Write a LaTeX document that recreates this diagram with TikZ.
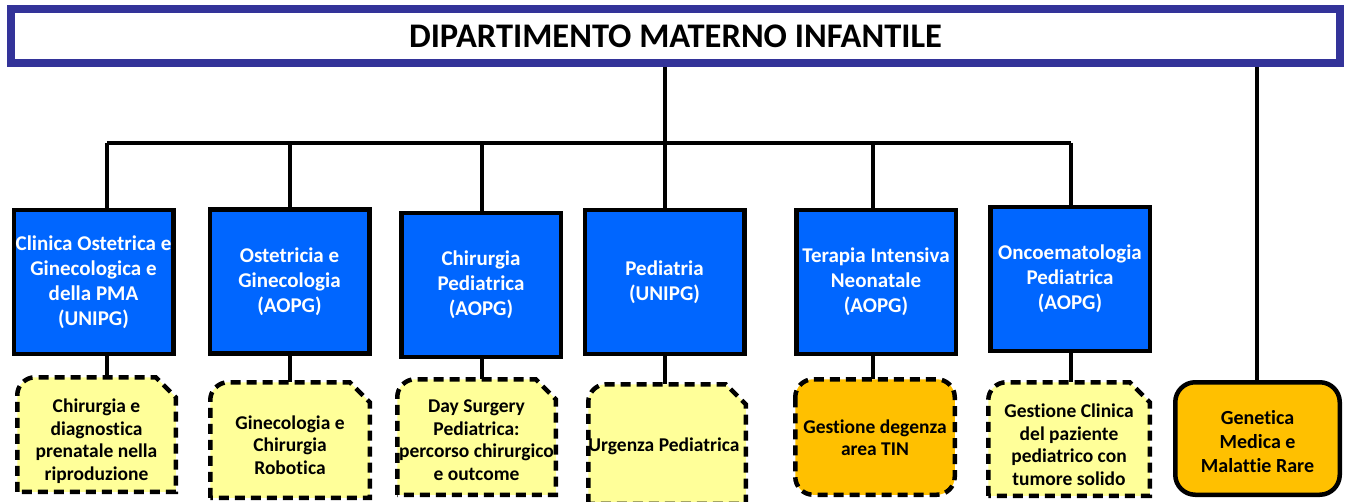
\documentclass[tikz,border=0pt]{standalone}
\usepackage{fontspec}
\setmainfont{Carlito}[Ligatures=NoCommon]
\definecolor{hdrblue}{RGB}{51,51,153}
\definecolor{unitblue}{RGB}{0,102,255}
\definecolor{paleyel}{RGB}{255,255,153}
\definecolor{orangey}{RGB}{255,192,0}
\pgfdeclarelayer{bg}
\pgfsetlayers{bg,main}
% snipped frame: name, left, top, right, bottom (path coordinates)
\newcommand\snipframe[5]{%
  \coordinate (#1top) at ({(#2+#4)/2},#3);
  \begin{pgfonlayer}{bg}
  \filldraw[dashbox, fill=paleyel] (#2,#5) -- ({#2},{#3+18})
    arc[start angle=180, end angle=90, radius=18pt]
    -- ({#4-20},#3) -- ({#4},{#3+20}) -- (#4,#5) -- cycle;
  \end{pgfonlayer}}
% rounded frame: name, left, top, right, bottom, style
\newcommand\roundframe[6]{%
  \coordinate (#1top) at ({(#2+#4)/2},#3);
  \begin{pgfonlayer}{bg}
  \filldraw[#6] (#2,#3) rectangle (#4,#5);
  \end{pgfonlayer}}
\begin{document}
\begin{tikzpicture}[x=1pt,y=-1pt,
  hdr/.style={draw=hdrblue, line width=8pt, fill=white, minimum width=1329pt,
    minimum height=54pt, inner sep=0pt, font=\bfseries\fontsize{34.5}{40}\selectfont},
  unit/.style={draw=black, line width=4.5pt, fill=unitblue, text=white, align=center,
    inner sep=0pt, minimum width=159.5pt, minimum height=143.5pt,
    font=\bfseries\fontsize{21}{25}\selectfont},
  sub/.style={inner sep=0pt, align=center, font=\bfseries\fontsize{19.5}{22.5}\selectfont},
  dashbox/.style={draw=black, line width=4.5pt, dash pattern=on 10pt off 6pt},
  link/.style={line width=4pt}]
\useasboundingbox (0,0) rectangle (1351,502);
\node[hdr] (hdr) at (675.5,36) {DIPARTIMENTO MATERNO INFANTILE};
% unit boxes
\node[unit] (b1) at (93.5,282) {Clinica Ostetrica e\\Ginecologica e\\della PMA\\(UNIPG)};
\node[unit] (b2) at (289.5,281.5) {Ostetricia e\\Ginecologia\\(AOPG)};
\node[unit] (b3) at (481,285) {Chirurgia\\Pediatrica\\(AOPG)};
\node[unit] (b4) at (664.5,282) {Pediatria\\(UNIPG)};
\node[unit] (b5) at (876,282) {Terapia Intensiva\\Neonatale\\(AOPG)};
\node[unit] (b6) at (1070,279) {Oncoematologia\\Pediatrica\\(AOPG)};
% sub boxes: frames
\snipframe{y1}{17.25}{377.25}{175.75}{491.75}
\snipframe{y2}{210.25}{382.25}{369.75}{497.75}
\snipframe{y3}{397.25}{379.25}{555.75}{494.75}
\snipframe{y4}{588.25}{384.25}{745.75}{503.75}
\roundframe{y5}{795.25}{379.25}{954.75}{494.75}{dashbox, fill=orangey, rounded corners=18pt}
\snipframe{y6}{988.25}{382.25}{1149.75}{495.75}
\roundframe{gen}{1175.25}{382.25}{1339.75}{494.75}{draw=black, line width=4.5pt, fill=orangey, rounded corners=20pt}
% sub boxes: texts
\node[sub] (y1) at (96.5,441) {Chirurgia e\\diagnostica\\prenatale nella\\riproduzione};
\node[sub] (y2) at (290,445) {Ginecologia e\\Chirurgia\\Robotica};
\node[sub] (y3) at (476.5,440) {Day Surgery\\Pediatrica:\\percorso chirurgico\\e outcome};
\node[sub] (y4) at (664,446) {Urgenza Pediatrica};
\node[sub] (y5) at (875,437.5) {Gestione degenza\\area TIN};
\node[sub] (y6) at (1069,444.5) {Gestione Clinica\\del paziente\\pediatrico con\\tumore solido};
\node[sub, font=\bfseries\fontsize{20}{24}\selectfont] (gen) at (1257.5,442) {Genetica\\Medica e\\Malattie Rare};
% connectors
\coordinate (bus) at (0,143);
\coordinate (x1) at (107,0);
\coordinate (x2) at (290,0);
\coordinate (x3) at (482,0);
\coordinate (x4) at (664.5,0);
\coordinate (x5) at (872.5,0);
\coordinate (x6) at (1070.5,0);
\coordinate (xg) at (1257,0);
\draw[link] (x4 |- hdr.south) -- (x4 |- b4.north);
\draw[link] (x1 |- bus) -- (x6 |- bus);
\foreach \i in {1,2,3,5,6} {
  \draw[link] (x\i |- bus) -- (x\i |- b\i.north);
}
\foreach \i in {1,2,3,4,5,6} {
  \draw[link] (x\i |- b\i.south) -- (x\i |- y\i top);
}
\draw[link] (xg |- hdr.south) -- (xg |- gentop);
\end{tikzpicture}
\end{document}
